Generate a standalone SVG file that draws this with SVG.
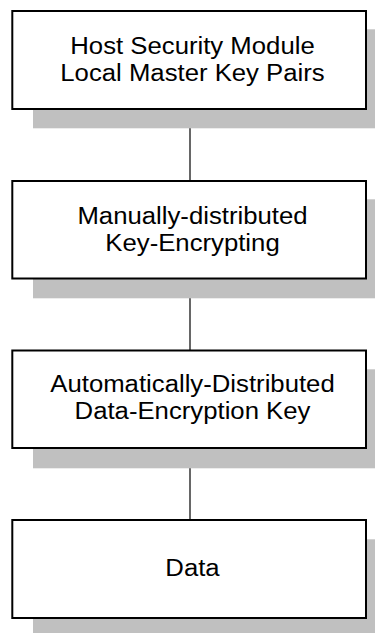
<svg xmlns="http://www.w3.org/2000/svg" width="375" height="633" viewBox="0 0 375 633">
  <style>
    .shadow { fill: #c0c0c0; stroke: none; }
    .box { fill: #ffffff; stroke: #000000; stroke-width: 2; }
    .label { font-family: "Liberation Sans", Arial, sans-serif; font-size: 23.5px; fill: #000000; text-anchor: middle; }
    .link { stroke: #000000; stroke-width: 1.2; fill: none; }
  </style>

  <!-- connectors between the key levels -->
  <g id="connectors">
    <line class="link" x1="190" y1="109" x2="190" y2="181"/>
    <line class="link" x1="190" y1="278" x2="190" y2="350"/>
    <line class="link" x1="190" y1="448" x2="190" y2="520"/>
  </g>

  <g id="node-host-security-module">
    <rect class="shadow" x="33" y="29.3" width="355" height="99"/>
    <rect class="box" x="12.3" y="11" width="353.7" height="98"/>
    <text class="label" transform="translate(192.5 0) scale(1.095 1)" x="0" y="54.5">Host Security Module</text>
    <text class="label" transform="translate(192.5 0) scale(1.095 1)" x="0" y="81.5">Local Master Key Pairs</text>
  </g>

  <g id="node-key-encrypting">
    <rect class="shadow" x="33" y="199.3" width="355" height="99"/>
    <rect class="box" x="12.3" y="181" width="353.7" height="97.5"/>
    <text class="label" transform="translate(192.5 0) scale(1.095 1)" x="0" y="224">Manually-distributed</text>
    <text class="label" transform="translate(192.5 0) scale(1.095 1)" x="0" y="251">Key-Encrypting</text>
  </g>

  <g id="node-data-encryption-key">
    <rect class="shadow" x="33" y="369.3" width="355" height="99"/>
    <rect class="box" x="12.3" y="350.5" width="353.7" height="97.5"/>
    <text class="label" transform="translate(192.5 0) scale(1.095 1)" x="0" y="392">Automatically-Distributed</text>
    <text class="label" transform="translate(192.5 0) scale(1.095 1)" x="0" y="419">Data-Encryption Key</text>
  </g>

  <g id="node-data">
    <rect class="shadow" x="33" y="539.3" width="355" height="99"/>
    <rect class="box" x="12.3" y="520" width="353.7" height="98"/>
    <text class="label" transform="translate(192.5 0) scale(1.095 1)" x="0" y="576.5">Data</text>
  </g>
</svg>
